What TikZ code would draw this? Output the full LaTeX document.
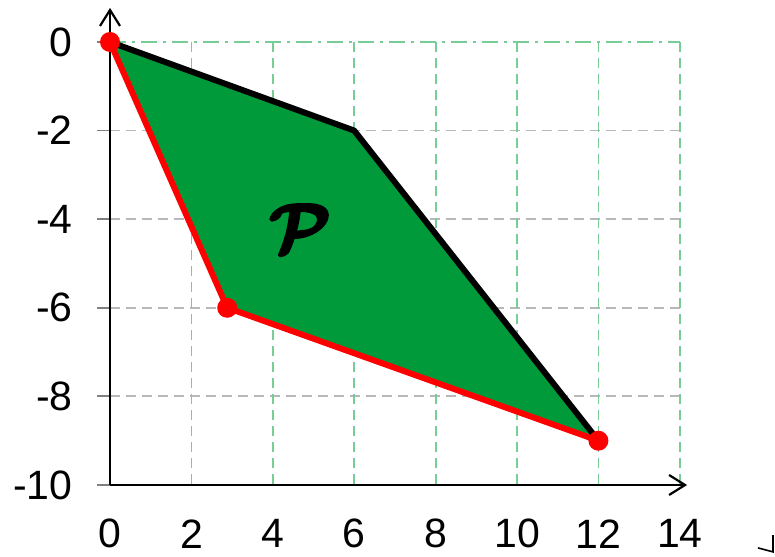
\documentclass[tikz,border=0pt]{standalone}
\usepackage{amsmath,amssymb,bm}
\usepackage{fontspec}
\setmainfont{Liberation Sans}
\usepackage{tikz}
\usetikzlibrary{calc,positioning,arrows.meta}

\definecolor{regiongreen}{RGB}{0,154,58}
\definecolor{gridgreen}{RGB}{120,205,150}
\newcommand{\heavytext}[1]{\special{pdf:literal direct q 2 Tr 0.9 w}#1\special{pdf:literal direct Q}}

\begin{document}
\begin{tikzpicture}[
  x=20.35pt, y=22.15pt,
  every node/.style={inner sep=0pt, font=\fontsize{20.5}{24}\selectfont},
  vgrid/.style={draw=gridgreen, line width=0.9pt, dash pattern=on 5pt off 3pt},
  topgrid/.style={draw=gridgreen, line width=0.9pt, dash pattern=on 8pt off 3pt on 1.5pt off 3pt},
  hgrid/.style={draw=black!28, line width=0.9pt, dash pattern=on 5pt off 3pt},
  tick/.style={draw=black!50, line width=0.9pt},
  axis/.style={draw=black, line width=1.1pt, -{Straight Barb[length=8pt,width=10pt]}},
  edge/.style={draw=black, line width=3pt, line join=round},
  redge/.style={draw=red, line width=3pt, line join=round},
  dot/.style={circle, fill=red, minimum size=10pt},
  lab/.style={anchor=east}
]
\useasboundingbox (-2.703,-11.625) rectangle (16.339,0.948);

% --- grid ---
\foreach \y in {-2,-4,...,-10} {
  \draw[hgrid] (0,\y) -- (14,\y);
}
\foreach \x in {2,4,...,14} {
  \draw[vgrid] (\x,0) -- (\x,-10);
}
\draw[topgrid] (0,0) -- (14,0);
\foreach \y in {0,-2,...,-10} {
  \draw[tick] (-0.32,\y) -- (0,\y);
  \node[lab] (ly\y) at (-0.91,\y) {\y};
}
\foreach \x in {0,2,...,14} {
  \node (lx\x) at (\x,-11.1) {\x};
}

% --- region P ---
\coordinate (o) at (0,0);
\coordinate (b) at (6,-2);
\coordinate (c) at (12,-9);
\coordinate (d) at (2.88,-6);
\fill[regiongreen] (o) -- (b) -- (c) -- (d) -- cycle;
\node (P) at (4.67,-4.2) {\scalebox{1.65}{\heavytext{\boldmath$\mathcal{P}$}}};

% --- axes ---
\coordinate (orig) at (0,-10);
\coordinate (xend) at (14.18,-10);
\coordinate (yend) at (0,0.77);
\draw[axis] (orig) -- (xend);
\draw[axis] (orig) -- (yend);

% --- edges ---
\draw[edge] (o) -- (b) -- (c);
\draw[redge] (c) -- (d) -- (o);
\node[dot] (vo) at (o) {};
\node[dot] (vd) at (d) {};
\node[dot] (vc) at (c) {};

% --- stray tip ---
\coordinate (s1) at (15.92,-11.42);
\coordinate (s0) at (16.29,-11.51);
\coordinate (s2) at (16.29,-11.13);
\draw[line width=0.8pt] (s1) -- (s0) -- (s2);

\end{tikzpicture}
\end{document}
